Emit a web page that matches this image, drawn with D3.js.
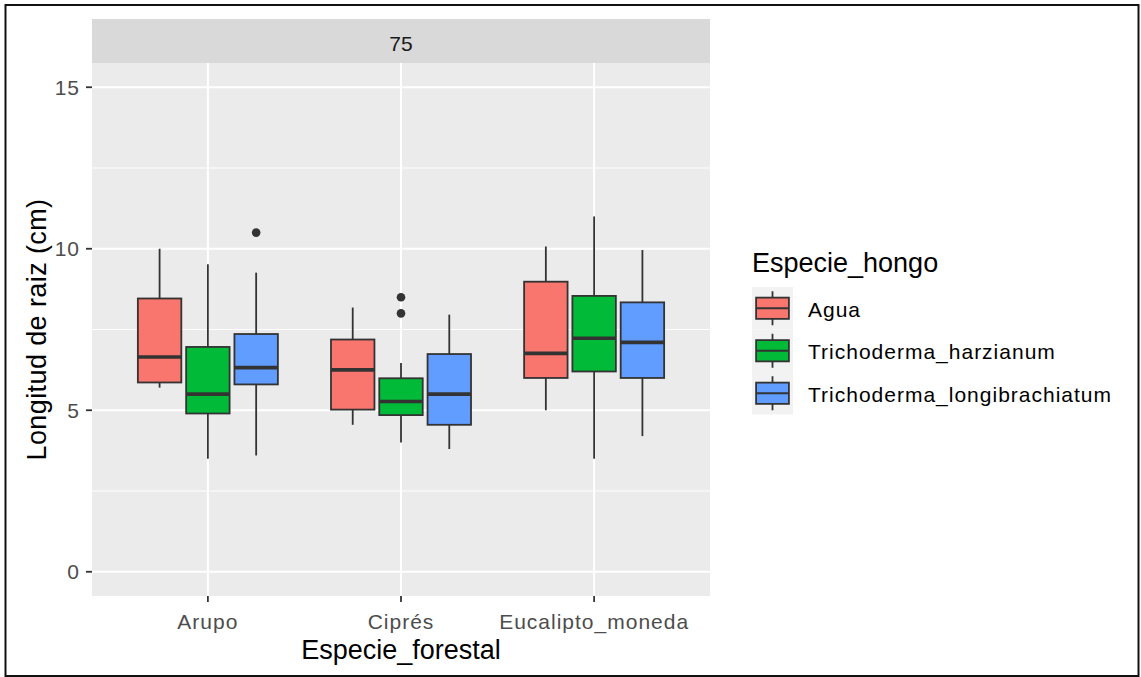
<!DOCTYPE html>
<html>
<head>
<meta charset="utf-8">
<script src="https://cdn.jsdelivr.net/npm/d3@7"></script>
<style>
  html, body { margin: 0; padding: 0; background: #ffffff; }
  svg { display: block; font-family: "Liberation Sans", Arial, sans-serif; }
</style>
</head>
<body>
<svg id="chart" width="1141" height="677"></svg>
<script>
// Categories on the x axis and fill groups
const categories = ["Arupo", "Ciprés", "Eucalipto_moneda"];
const fungi = ["Agua", "Trichoderma_harzianum", "Trichoderma_longibrachiatum"];
const fillColors = ["#F8766D", "#00BA38", "#619CFF"];
const facetLabel = "75";

// Box statistics, one entry per (category, fungus), category-major order
const whiskerLow  = [5.7, 3.5, 3.6,   4.55, 4.0, 3.8,   5.0, 3.5, 4.2];
const quartile1   = [5.86, 4.9, 5.8,  5.02, 4.85, 4.55, 6.0, 6.2, 6.0];
const medians     = [6.65, 5.5, 6.32, 6.25, 5.27, 5.5,  6.76, 7.23, 7.1];
const quartile3   = [8.46, 6.96, 7.36, 7.19, 5.99, 6.74, 8.98, 8.54, 8.34];
const whiskerHigh = [10.0, 9.52, 9.26, 8.18, 6.46, 7.96, 10.07, 11.0, 9.96];

// Outlying points: [category, fungus, value]
const outlierCat   = ["Arupo", "Ciprés", "Ciprés"];
const outlierFungi = ["Trichoderma_longibrachiatum", "Trichoderma_harzianum", "Trichoderma_harzianum"];
const outlierVals  = [10.5, 8.5, 8.0];

// Axis ticks
const yMajor = [0, 5, 10, 15];
const yMinor = [2.5, 7.5, 12.5];

const xTitle = "Especie_forestal";
const yTitle = "Longitud de raiz (cm)";
const legendTitle = "Especie_hongo";

// ---- layout ----
const panel = { left: 92, right: 710, top: 63, bottom: 596 };
const strip = { top: 19, bottom: 63 };

const svg = d3.select("#chart");

const boxes = [];
categories.forEach((c, i) => {
  fungi.forEach((f, j) => {
    const k = i * fungi.length + j;
    boxes.push({ cat: c, fungus: f, lo: whiskerLow[k], q1: quartile1[k], med: medians[k], q3: quartile3[k], hi: whiskerHigh[k] });
  });
});
const outliers = outlierVals.map((v, i) => ({ cat: outlierCat[i], fungus: outlierFungi[i], value: v }));

const x = d3.scalePoint().domain(categories).range([panel.left, panel.right]).padding(0.6);
const step = x.step();
const xDodge = d3.scaleBand().domain(fungi).range([-0.375 * step, 0.375 * step]).paddingInner(0.1).paddingOuter(0.05);
const y = d3.scaleLinear().domain([-0.75, 15.75]).range([panel.bottom, panel.top]);
const color = d3.scaleOrdinal().domain(fungi).range(fillColors);

// outer frame
svg.append("rect").attr("x", 5.5).attr("y", 5).attr("width", 1133).attr("height", 671)
  .attr("fill", "none").attr("stroke", "#111").attr("stroke-width", 2);

// strip
svg.append("rect").attr("x", panel.left).attr("y", strip.top)
  .attr("width", panel.right - panel.left).attr("height", strip.bottom - strip.top)
  .attr("fill", "#D9D9D9");
svg.append("text").attr("x", (panel.left + panel.right) / 2).attr("y", 51)
  .attr("text-anchor", "middle").attr("font-size", 21).attr("fill", "#1A1A1A")
  .text(facetLabel);

// panel background
svg.append("rect").attr("x", panel.left).attr("y", panel.top)
  .attr("width", panel.right - panel.left).attr("height", panel.bottom - panel.top)
  .attr("fill", "#EBEBEB");

// grid
const grid = svg.append("g");
grid.selectAll("line.minor").data(yMinor).join("line").attr("class", "minor")
  .attr("x1", panel.left).attr("x2", panel.right)
  .attr("y1", d => y(d)).attr("y2", d => y(d))
  .attr("stroke", "#fff").attr("stroke-width", 1);
grid.selectAll("line.majory").data(yMajor).join("line").attr("class", "majory")
  .attr("x1", panel.left).attr("x2", panel.right)
  .attr("y1", d => y(d)).attr("y2", d => y(d))
  .attr("stroke", "#fff").attr("stroke-width", 2);
grid.selectAll("line.majorx").data(categories).join("line").attr("class", "majorx")
  .attr("x1", d => x(d)).attr("x2", d => x(d))
  .attr("y1", panel.top).attr("y2", panel.bottom)
  .attr("stroke", "#fff").attr("stroke-width", 2);

// boxplots
const bw = xDodge.bandwidth();
const g = svg.append("g");
const bx = d => x(d.cat) + xDodge(d.fungus);
const bc = d => bx(d) + bw / 2;

g.selectAll("line.wh-hi").data(boxes).join("line").attr("class", "wh-hi")
  .attr("x1", bc).attr("x2", bc).attr("y1", d => y(d.hi)).attr("y2", d => y(d.q3))
  .attr("stroke", "#333").attr("stroke-width", 1.8);
g.selectAll("line.wh-lo").data(boxes).join("line").attr("class", "wh-lo")
  .attr("x1", bc).attr("x2", bc).attr("y1", d => y(d.q1)).attr("y2", d => y(d.lo))
  .attr("stroke", "#333").attr("stroke-width", 1.8);
g.selectAll("rect.box").data(boxes).join("rect").attr("class", "box")
  .attr("x", bx).attr("width", bw)
  .attr("y", d => y(d.q3)).attr("height", d => y(d.q1) - y(d.q3))
  .attr("fill", d => color(d.fungus)).attr("stroke", "#333").attr("stroke-width", 1.8);
g.selectAll("line.med").data(boxes).join("line").attr("class", "med")
  .attr("x1", bx).attr("x2", d => bx(d) + bw)
  .attr("y1", d => y(d.med)).attr("y2", d => y(d.med))
  .attr("stroke", "#333").attr("stroke-width", 3.6);
g.selectAll("circle.out").data(outliers).join("circle").attr("class", "out")
  .attr("cx", d => x(d.cat) + xDodge(d.fungus) + bw / 2).attr("cy", d => y(d.value))
  .attr("r", 4.3).attr("fill", "#333");

// y axis
const yAx = svg.append("g");
yAx.selectAll("line").data(yMajor).join("line")
  .attr("x1", panel.left - 6).attr("x2", panel.left)
  .attr("y1", d => y(d)).attr("y2", d => y(d))
  .attr("stroke", "#333").attr("stroke-width", 1.8);
yAx.selectAll("text").data(yMajor).join("text")
  .attr("x", panel.left - 12).attr("y", d => y(d)).attr("dy", "0.36em")
  .attr("text-anchor", "end").attr("font-size", 21).attr("fill", "#4D4D4D")
  .attr("letter-spacing", 1)
  .text(d => d);

// x axis
const xAx = svg.append("g");
xAx.selectAll("line").data(categories).join("line")
  .attr("x1", d => x(d)).attr("x2", d => x(d))
  .attr("y1", panel.bottom).attr("y2", panel.bottom + 6)
  .attr("stroke", "#333").attr("stroke-width", 1.8);
xAx.selectAll("text").data(categories).join("text")
  .attr("x", d => x(d)).attr("y", 629)
  .attr("text-anchor", "middle").attr("font-size", 21).attr("fill", "#4D4D4D")
  .attr("letter-spacing", 1)
  .text(d => d);

// axis titles
svg.append("text").attr("x", (panel.left + panel.right) / 2).attr("y", 659)
  .attr("text-anchor", "middle").attr("font-size", 27).attr("fill", "#000")
  .text(xTitle);
svg.append("text")
  .attr("transform", `translate(46,${(panel.top + panel.bottom) / 2}) rotate(-90)`)
  .attr("text-anchor", "middle").attr("font-size", 27).attr("fill", "#000")
  .attr("letter-spacing", 0.4)
  .text(yTitle);

// legend
const leg = svg.append("g");
const keyX = 752, keyW = 41, keyH = 42.5, legTop = 287;
leg.append("text").attr("x", keyX).attr("y", 272)
  .attr("font-size", 27).attr("fill", "#000").text(legendTitle);
const items = leg.selectAll("g.item").data(fungi).join("g").attr("class", "item")
  .attr("transform", (d, i) => `translate(${keyX},${legTop + i * keyH})`);
items.append("rect").attr("width", keyW).attr("height", keyH).attr("fill", "#F2F2F2");
items.append("line").attr("x1", keyW / 2).attr("x2", keyW / 2)
  .attr("y1", keyH * 0.1).attr("y2", keyH * 0.9)
  .attr("stroke", "#333").attr("stroke-width", 1.8);
items.append("rect").attr("x", keyW * 0.1).attr("width", keyW * 0.8)
  .attr("y", keyH * 0.25).attr("height", keyH * 0.5)
  .attr("fill", d => color(d)).attr("stroke", "#333").attr("stroke-width", 1.8);
items.append("line").attr("x1", keyW * 0.1).attr("x2", keyW * 0.9)
  .attr("y1", keyH / 2).attr("y2", keyH / 2)
  .attr("stroke", "#333").attr("stroke-width", 1.8);
items.append("text").attr("x", 56).attr("y", keyH / 2).attr("dy", "0.4em")
  .attr("font-size", 21).attr("fill", "#000").attr("letter-spacing", 1)
  .text(d => d);
</script>
</body>
</html>
